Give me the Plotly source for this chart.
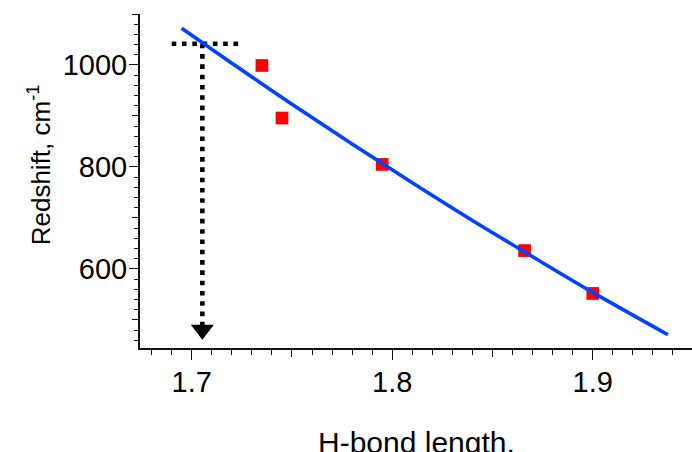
import plotly.graph_objects as go

# measured data (H-bond length in Å, redshift in cm^-1)
bond_length = [1.735, 1.745, 1.795, 1.866, 1.900]
redshift = [999, 896, 805, 636, 552]

# fitted curve
fit_length = [1.695, 1.72, 1.75, 1.78, 1.81, 1.84, 1.87, 1.90, 1.9375]
fit_redshift = [1072, 1003.5, 923, 845, 769, 695, 624, 554, 471]

# dotted guide lines and arrow
guide_h_length = [1.690, 1.7233]
guide_h_redshift = [1041.7, 1041.7]
guide_v_length = [1.7053, 1.7053]
guide_v_redshift = [1041.7, 487]
arrow_length = [1.7053]
arrow_redshift = [481]

x_range = [1.6742, 1.9495]
y_range = [445, 1100]

FONT = "Liberation Sans, Arial, Helvetica, sans-serif"

fig = go.Figure()

fig.add_trace(go.Scatter(x=guide_h_length, y=guide_h_redshift, mode="lines",
                         line=dict(color="black", width=4.6, dash="4.6px,5.7px"),
                         hoverinfo="skip", showlegend=False))
fig.add_trace(go.Scatter(x=guide_v_length, y=guide_v_redshift, mode="lines",
                         line=dict(color="black", width=4.6, dash="4.6px,5.7px"),
                         hoverinfo="skip", showlegend=False))
fig.add_trace(go.Scatter(x=arrow_length, y=arrow_redshift, mode="markers",
                         marker=dict(symbol="triangle-down", size=20, color="black",
                                     line=dict(width=0)),
                         hoverinfo="skip", showlegend=False))
fig.add_trace(go.Scatter(x=bond_length, y=redshift, mode="markers",
                         marker=dict(symbol="square", size=12.7, color="#ff0000",
                                     line=dict(width=0)),
                         showlegend=False))
fig.add_trace(go.Scatter(x=fit_length, y=fit_redshift, mode="lines",
                         line=dict(color="#0042ff", width=3.6, shape="spline"),
                         showlegend=False))
# helper trace so that the overlay axes carrying the mid-length ticks are drawn
fig.add_trace(go.Scatter(x=[None], y=[None], xaxis="x2", yaxis="y2",
                         hoverinfo="skip", showlegend=False))

axis_common = dict(showgrid=False, zeroline=False, showline=True, linecolor="#111",
                   linewidth=1.5, ticks="outside", tickcolor="#111", tickwidth=1.3,
                   tickfont=dict(family=FONT, size=29, color="black"))

fig.update_layout(
    width=692, height=452,
    margin=dict(l=140, r=0, t=14, b=104),
    paper_bgcolor="white", plot_bgcolor="white",
    font=dict(family=FONT, color="black"),
    xaxis=dict(range=x_range, tick0=1.7, dtick=0.1, tickformat=".1f", ticklen=10.5,
               ticklabelstandoff=-3,
               minor=dict(dtick=0.01, tick0=1.7, ticklen=5.7, ticks="outside",
                          tickcolor="#111", tickwidth=1.2),
               **axis_common),
    yaxis=dict(range=y_range, tick0=0, dtick=200, ticklen=9.3, ticklabelstandoff=-4,
               minor=dict(dtick=20, tick0=0, ticklen=4, ticks="outside",
                          tickcolor="#111", tickwidth=1.2),
               **axis_common),
    xaxis2=dict(range=x_range, overlaying="x", anchor="y", side="bottom",
                tick0=1.75, dtick=0.1, ticks="outside", ticklen=8, tickwidth=1.3,
                tickcolor="#111", showticklabels=False, showgrid=False,
                zeroline=False, showline=False),
    yaxis2=dict(range=y_range, overlaying="y", anchor="x", side="left",
                tick0=100, dtick=200, ticks="outside", ticklen=6.7, tickwidth=1.3,
                tickcolor="#111", showticklabels=False, showgrid=False,
                zeroline=False, showline=False),
    annotations=[
        dict(text="Redshift, cm<sup>-1</sup>", textangle=-90, xref="paper", yref="paper",
             x=-0.183, y=0.55, xanchor="center", yanchor="middle", showarrow=False,
             font=dict(family=FONT, size=26, color="black")),
        dict(text="H-bond length,", xref="paper", yref="paper",
             x=0.5, y=-0.229, xanchor="center", yanchor="top", showarrow=False,
             font=dict(family=FONT, size=30, color="black")),
    ],
)

fig.write_html("out.html", config={"displayModeBar": False},
               post_script="document.body.style.margin='0';")
